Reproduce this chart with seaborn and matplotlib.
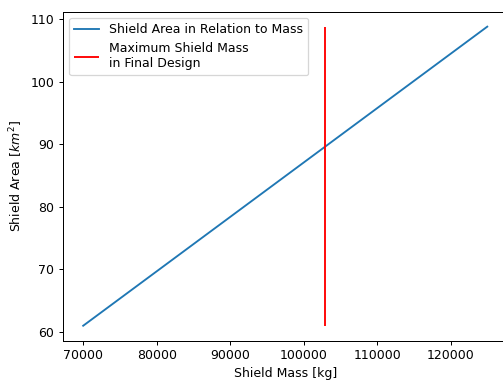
import matplotlib
matplotlib.use("Agg")
import matplotlib.pyplot as plt
import seaborn as sns
import pandas as pd

shield_mass = [70000, 125000]
shield_area = [60.95, 108.8]
max_mass_final = 102900

df = pd.DataFrame({"mass": shield_mass, "area": shield_area})

DPI = 90
fig = plt.figure(figsize=(503 / DPI, 381 / DPI), dpi=DPI)
ax = fig.add_axes([0.1252, 0.1058, 0.8837, 0.8635])

sns.lineplot(data=df, x="mass", y="area", ax=ax, color="#1f77b4",
             label="Shield Area in Relation to Mass")
ax.vlines(max_mass_final, min(shield_area), max(shield_area), color="red",
          label="Maximum Shield Mass\nin Final Design")

ax.set_xlabel("Shield Mass [kg]")
ax.set_ylabel("Shield Area [$km^2$]")
ax.legend(loc="upper left")

fig.savefig("out.png", dpi=DPI)
